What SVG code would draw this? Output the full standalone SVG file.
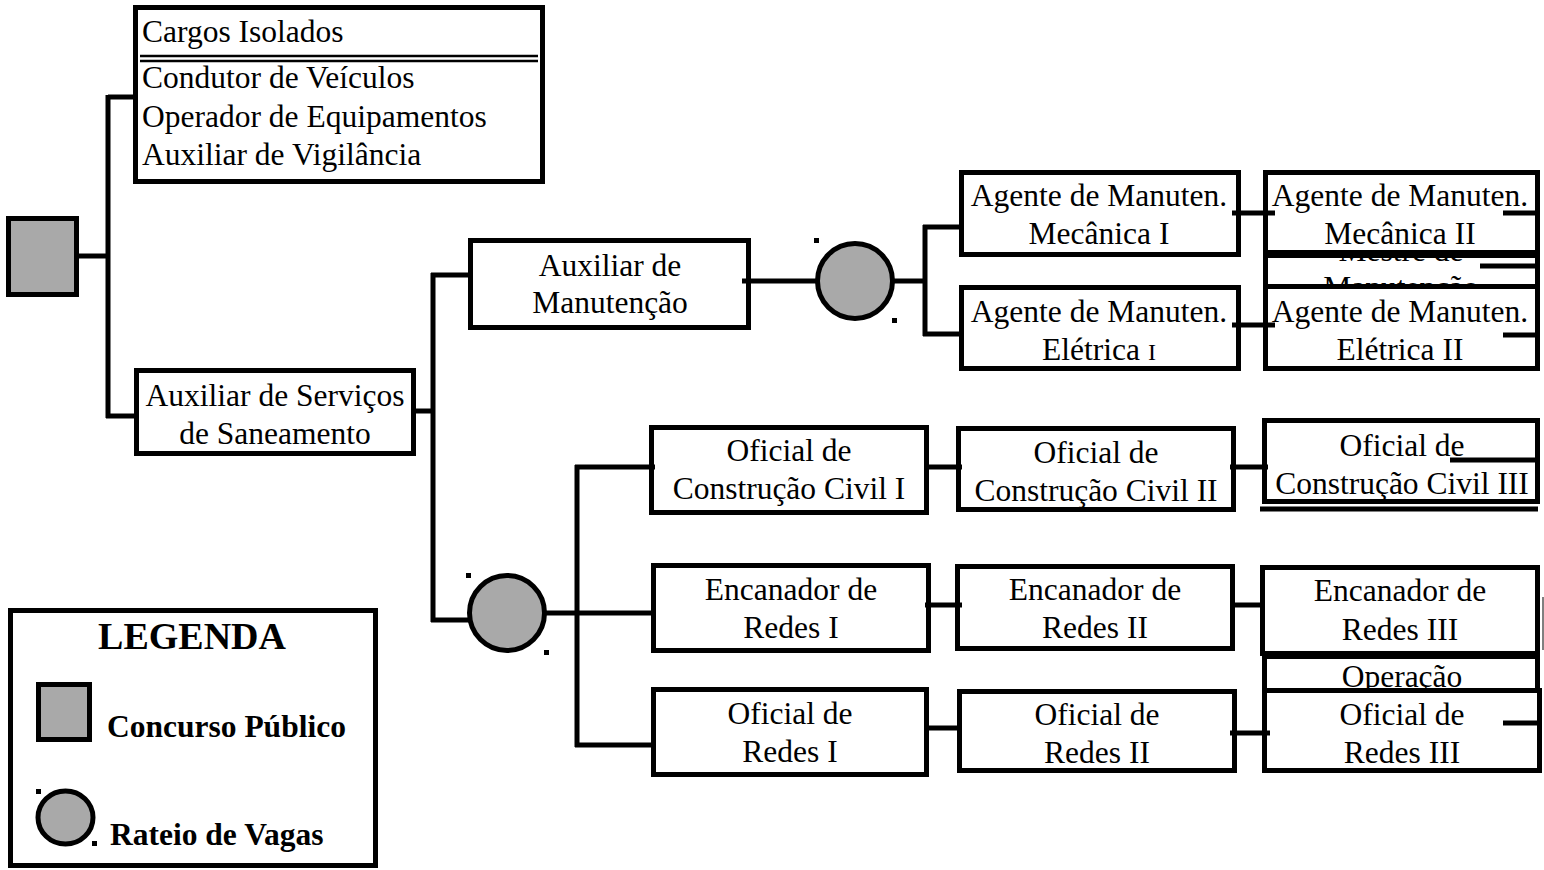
<svg xmlns="http://www.w3.org/2000/svg" width="1544" height="870" viewBox="0 0 1544 870">
<style>
.box{fill:#fff;stroke:#000;stroke-width:5}
.gray{fill:#a9a9a9;stroke:#000;stroke-width:5}
.t{font-family:"Liberation Serif","Times New Roman",serif;font-size:31.5px;fill:#000}
.c{text-anchor:middle}
.b{font-weight:bold}
.ln{stroke:#000;stroke-width:5;fill:none}
.dot{fill:#000}
</style>
<rect width="1544" height="870" fill="#fff"/>

<g id="concurso">
<rect class="gray" x="8.5" y="218.5" width="68" height="76"/>
</g>

<g id="cargos-isolados">
<rect class="box" x="135.5" y="7.5" width="407" height="174"/>
<line x1="140" y1="56" x2="538" y2="56" stroke="#000" stroke-width="2.5"/>
<line x1="140" y1="61" x2="538" y2="61" stroke="#000" stroke-width="2.5"/>
<text class="t" x="142" y="42">Cargos Isolados</text>
<text class="t" x="142" y="88">Condutor de Veículos</text>
<text class="t" x="142" y="127">Operador de Equipamentos</text>
<text class="t" x="142" y="165">Auxiliar de Vigilância</text>
</g>

<g id="aux-servicos">
<rect class="box" x="136.5" y="370.5" width="277" height="83"/>
<text class="t c" x="275" y="406">Auxiliar de Serviços</text>
<text class="t c" x="275" y="444">de Saneamento</text>
</g>

<g id="aux-manutencao">
<rect class="box" x="470.5" y="240.5" width="278" height="87"/>
<text class="t c" x="610" y="276">Auxiliar de</text>
<text class="t c" x="610" y="313">Manutenção</text>
</g>

<g id="rateio-1">
<circle class="gray" cx="855" cy="281" r="37.5"/>
<rect class="dot" x="814" y="238" width="5" height="5"/>
<rect class="dot" x="892" y="318" width="5" height="5"/>
</g>

<g id="rateio-2">
<circle class="gray" cx="507" cy="613" r="37.5"/>
<rect class="dot" x="466" y="573" width="5" height="5"/>
<rect class="dot" x="544" y="650" width="5" height="5"/>
</g>

<g id="mec-1">
<rect class="box" x="961.5" y="172.5" width="277" height="82"/>
<text class="t c" x="1099" y="206">Agente de Manuten.</text>
<text class="t c" x="1099" y="244">Mecânica I</text>
</g>

<g id="ele-1">
<rect class="box" x="961.5" y="287.5" width="277" height="81"/>
<text class="t c" x="1099" y="322">Agente de Manuten.</text>
<text class="t c" x="1099" y="360">Elétrica <tspan style="font-size:24px">I</tspan></text>
</g>

<g id="mestre">
<rect class="box" x="1265.5" y="255.5" width="272" height="80"/>
<text class="t c" x="1401" y="261">Mestre de</text>
<text class="t c" x="1401" y="298">Manutenção</text>
</g>

<g id="mec-2">
<rect class="box" x="1265.5" y="172.5" width="272" height="80"/>
<text class="t c" x="1400" y="206">Agente de Manuten.</text>
<text class="t c" x="1400" y="244">Mecânica II</text>
</g>

<g id="ele-2">
<rect class="box" x="1265.5" y="286.5" width="272" height="82"/>
<text class="t c" x="1400" y="322">Agente de Manuten.</text>
<text class="t c" x="1400" y="360">Elétrica II</text>
</g>

<g id="occ-1">
<rect class="box" x="651.5" y="427.5" width="275" height="85"/>
<text class="t c" x="789" y="461">Oficial de</text>
<text class="t c" x="789" y="499">Construção Civil I</text>
</g>

<g id="occ-2">
<rect class="box" x="958.5" y="428.5" width="275" height="81"/>
<text class="t c" x="1096" y="463">Oficial de</text>
<text class="t c" x="1096" y="501">Construção Civil II</text>
</g>

<g id="occ-3">
<line x1="1260" y1="509" x2="1538" y2="509" class="ln"/>
<rect class="box" x="1264.5" y="420.5" width="273" height="81"/>
<text class="t c" x="1402" y="456">Oficial de</text>
<text class="t c" x="1402" y="494">Construção Civil III</text>
</g>

<g id="enc-1">
<rect class="box" x="653.5" y="565.5" width="275" height="85"/>
<text class="t c" x="791" y="600">Encanador de</text>
<text class="t c" x="791" y="638">Redes I</text>
</g>

<g id="enc-2">
<rect class="box" x="957.5" y="566.5" width="275" height="82"/>
<text class="t c" x="1095" y="600">Encanador de</text>
<text class="t c" x="1095" y="638">Redes II</text>
</g>

<g id="operacao">
<rect class="box" x="1264.5" y="656.5" width="273" height="80"/>
<text class="t c" x="1402" y="687">Operação</text>
</g>

<g id="enc-3">
<rect class="box" x="1262.5" y="567.5" width="275" height="86"/>
<text class="t c" x="1400" y="601">Encanador de</text>
<text class="t c" x="1400" y="640">Redes III</text>
<line x1="1543" y1="597" x2="1543" y2="650" stroke="#000" stroke-width="1"/>
</g>

<g id="or-1">
<rect class="box" x="653.5" y="689.5" width="273" height="85"/>
<text class="t c" x="790" y="724">Oficial de</text>
<text class="t c" x="790" y="762">Redes I</text>
</g>

<g id="or-2">
<rect class="box" x="959.5" y="691.5" width="275" height="79"/>
<text class="t c" x="1097" y="725">Oficial de</text>
<text class="t c" x="1097" y="763">Redes II</text>
</g>

<g id="or-3">
<rect class="box" x="1264.5" y="690.5" width="275" height="80"/>
<text class="t c" x="1402" y="725">Oficial de</text>
<text class="t c" x="1402" y="763">Redes III</text>
</g>

<g id="connectors" class="ln">
<path d="M79 256H108"/>
<path d="M108 95V418"/>
<path d="M108 97H136"/>
<path d="M106 416H137"/>
<path d="M414 411H433"/>
<path d="M433 273V622"/>
<path d="M431 275H472"/>
<path d="M431 620H470"/>
<path d="M742 281H818"/>
<path d="M892 281H925"/>
<path d="M925 225V336"/>
<path d="M923 227H962"/>
<path d="M923 334H962"/>
<path d="M1232 213H1275"/>
<path d="M1503 213H1540"/>
<path d="M1480 266H1540"/>
<path d="M1232 325H1275"/>
<path d="M1503 335H1540"/>
<path d="M544 613H655"/>
<path d="M577 465V747"/>
<path d="M575 467H655"/>
<path d="M575 745H655"/>
<path d="M924 467H962"/>
<path d="M1230 467H1268"/>
<path d="M1450 460H1540"/>
<path d="M925 605H962"/>
<path d="M1230 605H1265"/>
<path d="M924 728H962"/>
<path d="M1230 733H1270"/>
<path d="M1503 723H1540"/>
</g>

<g id="legenda">
<rect class="box" x="10.5" y="610.5" width="365" height="255"/>
<text class="t c b" x="192" y="649" style="font-size:38px">LEGENDA</text>
<rect class="gray" x="38.5" y="684.5" width="51" height="55"/>
<text class="t b" x="107" y="737">Concurso Público</text>
<ellipse class="gray" cx="65.5" cy="817.5" rx="27.5" ry="26.5"/>
<rect class="dot" x="36" y="789" width="5" height="5"/>
<rect class="dot" x="92" y="841" width="5" height="5"/>
<text class="t b" x="110" y="845">Rateio de Vagas</text>
</g>
</svg>
